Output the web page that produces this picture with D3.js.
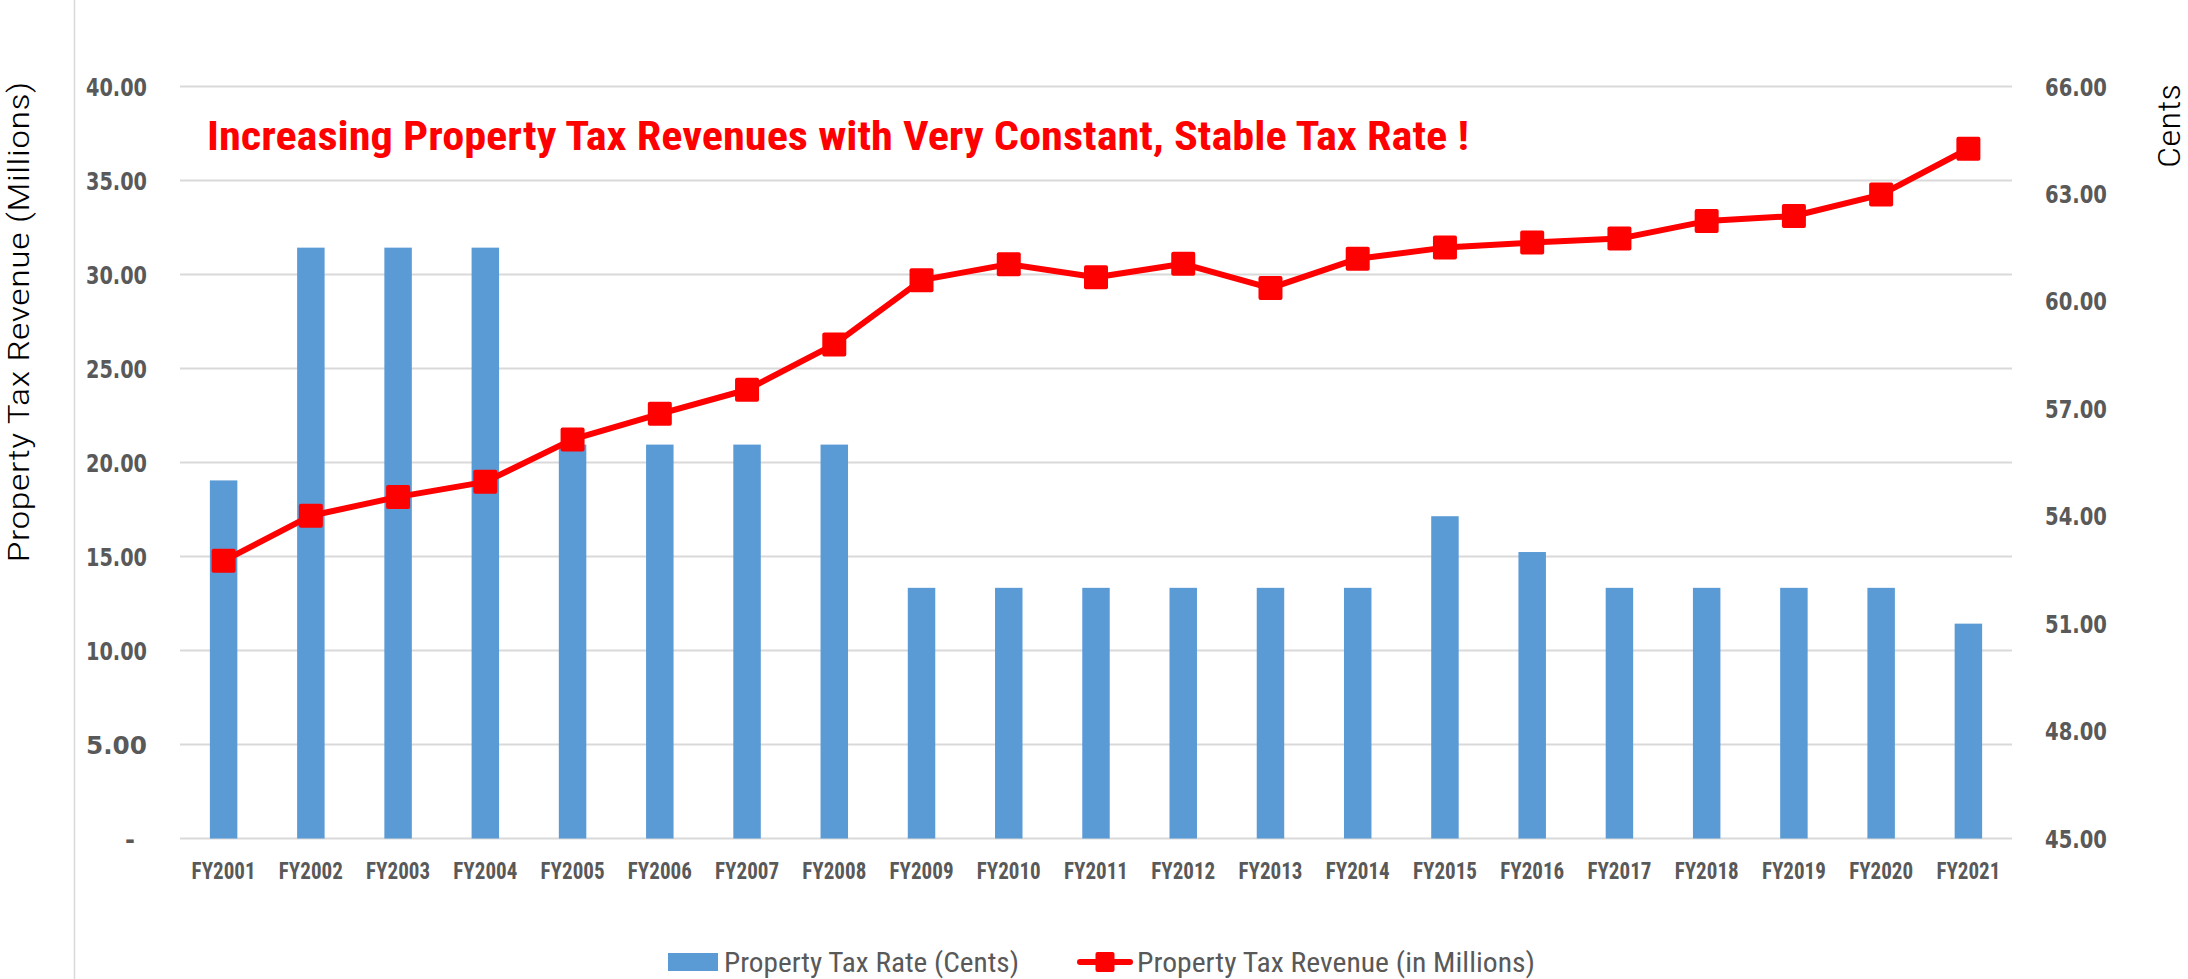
<!DOCTYPE html>
<html><head><meta charset="utf-8">
<script src="https://cdn.jsdelivr.net/npm/d3@7"></script>
<style>body{margin:0;background:#fff}</style>
</head><body>
<svg id="chart" width="2188" height="979"></svg>
<script>
const categories = ["FY2001","FY2002","FY2003","FY2004","FY2005","FY2006","FY2007","FY2008","FY2009","FY2010","FY2011","FY2012","FY2013","FY2014","FY2015","FY2016","FY2017","FY2018","FY2019","FY2020","FY2021"];
const taxRateCents = [55, 61.5, 61.5, 61.5, 56, 56, 56, 56, 52, 52, 52, 52, 52, 52, 54, 53, 52, 52, 52, 52, 51];
const revenueMillions = [14.77, 17.17, 18.17, 18.97, 21.23, 22.59, 23.87, 26.28, 29.70, 30.55, 29.85, 30.57, 29.28, 30.84, 31.43, 31.70, 31.91, 32.84, 33.11, 34.25, 36.69];
const leftTicks = [0, 5, 10, 15, 20, 25, 30, 35, 40];
const rightTicks = [45, 48, 51, 54, 57, 60, 63, 66];
const titleText = "Increasing Property Tax Revenues with Very Constant, Stable Tax Rate !";
const leftAxisTitle = "Property Tax Revenue (Millions)";
const rightAxisTitle = "Cents";
const legendLabels = ["Property Tax Rate (Cents)", "Property Tax Revenue (in Millions)"];

const svg = d3.select("#chart");
const W = 2188, H = 979;
const plot = {left: 180, right: 2012, top: 86.5, bottom: 838.5};
const narrow = "'Liberation Sans Narrow','Roboto Condensed','DejaVu Sans Condensed','Liberation Sans',sans-serif";
const light = "'Roboto Condensed','Roboto','Liberation Sans Narrow','Liberation Sans',sans-serif";
const gray = "#595959";

svg.append("rect").attr("width", W).attr("height", H).attr("fill", "#fff");
// left border line of chart area
svg.append("line").attr("x1", 74.5).attr("x2", 74.5).attr("y1", 0).attr("y2", H)
  .attr("stroke", "#d9d9d9").attr("stroke-width", 1.5);

const x = d3.scaleBand().domain(categories).range([plot.left, plot.right])
  .paddingInner(0.685).paddingOuter(0.3425);
const yL = d3.scaleLinear().domain([0, 40]).range([plot.bottom, plot.top]);
const yR = d3.scaleLinear().domain([45, 66]).range([plot.bottom, plot.top]);

// gridlines
svg.append("g").selectAll("line").data(leftTicks).join("line")
  .attr("x1", plot.left).attr("x2", plot.right)
  .attr("y1", d => yL(d)).attr("y2", d => yL(d))
  .attr("stroke", "#d9d9d9").attr("stroke-width", d => d === 0 ? 2.2 : 1.8);

// left tick labels
svg.append("g").selectAll("text").data(leftTicks).join("text")
  .attr("x", d => d === 0 ? 135 : 147).attr("y", d => yL(d) + 9)
  .attr("text-anchor", "end")
  .attr("font-family", "'DejaVu Sans',Verdana,sans-serif").attr("font-weight", "bold")
  .attr("font-size", 24).attr("fill", gray)
  .each(function(d){ if (d !== 0) d3.select(this).attr("textLength", 61).attr("lengthAdjust", "spacingAndGlyphs"); })
  .text(d => d === 0 ? "-" : d.toFixed(2));

// right tick labels
svg.append("g").selectAll("text").data(rightTicks).join("text")
  .attr("x", 2045).attr("y", d => yR(d) + 9)
  .attr("text-anchor", "start")
  .attr("font-family", "'DejaVu Sans',Verdana,sans-serif").attr("font-weight", "bold")
  .attr("font-size", 24).attr("fill", gray)
  .attr("textLength", 62).attr("lengthAdjust", "spacingAndGlyphs")
  .text(d => d.toFixed(2));

// x labels
svg.append("g").selectAll("text").data(categories).join("text")
  .attr("x", d => x(d) + x.bandwidth() / 2).attr("y", 879)
  .attr("text-anchor", "middle")
  .attr("font-family", narrow).attr("font-weight", "bold")
  .attr("font-size", 23).attr("fill", gray)
  .attr("textLength", 64).attr("lengthAdjust", "spacingAndGlyphs")
  .text(d => d);

// bars
svg.append("g").selectAll("rect").data(taxRateCents).join("rect")
  .attr("x", (d, i) => x(categories[i]))
  .attr("width", x.bandwidth())
  .attr("y", d => yR(d))
  .attr("height", d => yR(45) - yR(d))
  .attr("fill", "#5b9bd5");

// line
const line = d3.line().x((d, i) => x(categories[i]) + x.bandwidth() / 2).y(d => yL(d));
svg.append("path").datum(revenueMillions).attr("d", line)
  .attr("fill", "none").attr("stroke", "#ff0000").attr("stroke-width", 6)
  .attr("stroke-linejoin", "round");
const ms = 24;
svg.append("g").selectAll("rect").data(revenueMillions).join("rect")
  .attr("x", (d, i) => x(categories[i]) + x.bandwidth() / 2 - ms / 2)
  .attr("y", d => yL(d) - ms / 2)
  .attr("width", ms).attr("height", ms).attr("rx", 2)
  .attr("fill", "#ff0000");

// title
svg.append("text").attr("x", 207).attr("y", 150)
  .attr("font-family", narrow).attr("font-weight", "bold").attr("font-size", 40)
  .attr("fill", "#ff0000")
  .attr("textLength", 1262).attr("lengthAdjust", "spacingAndGlyphs")
  .text(titleText);

// axis titles
svg.append("text").attr("transform", "translate(29,322) rotate(-90)")
  .attr("text-anchor", "middle").attr("font-family", light).attr("font-weight", 300).attr("font-size", 29)
  .attr("fill", "#000").attr("textLength", 481).attr("lengthAdjust", "spacingAndGlyphs")
  .text(leftAxisTitle);
svg.append("text").attr("transform", "translate(2180,126) rotate(-90)")
  .attr("text-anchor", "middle").attr("font-family", light).attr("font-weight", 300).attr("font-size", 31)
  .attr("fill", "#000").attr("textLength", 84).attr("lengthAdjust", "spacingAndGlyphs")
  .text(rightAxisTitle);

// legend
const lg = svg.append("g");
lg.append("rect").attr("x", 668).attr("y", 953).attr("width", 50).attr("height", 18).attr("fill", "#5b9bd5");
lg.append("text").attr("x", 724).attr("y", 972).attr("font-family", narrow).attr("font-size", 27)
  .attr("fill", gray).attr("textLength", 295).attr("lengthAdjust", "spacingAndGlyphs").text(legendLabels[0]);
lg.append("line").attr("x1", 1080).attr("x2", 1130).attr("y1", 962).attr("y2", 962)
  .attr("stroke", "#ff0000").attr("stroke-width", 6).attr("stroke-linecap", "round");
lg.append("rect").attr("x", 1095.5).attr("y", 952).attr("width", 19).attr("height", 20).attr("rx", 2).attr("fill", "#ff0000");
lg.append("text").attr("x", 1137).attr("y", 972).attr("font-family", narrow).attr("font-size", 27)
  .attr("fill", gray).attr("textLength", 398).attr("lengthAdjust", "spacingAndGlyphs").text(legendLabels[1]);
</script>
</body></html>
